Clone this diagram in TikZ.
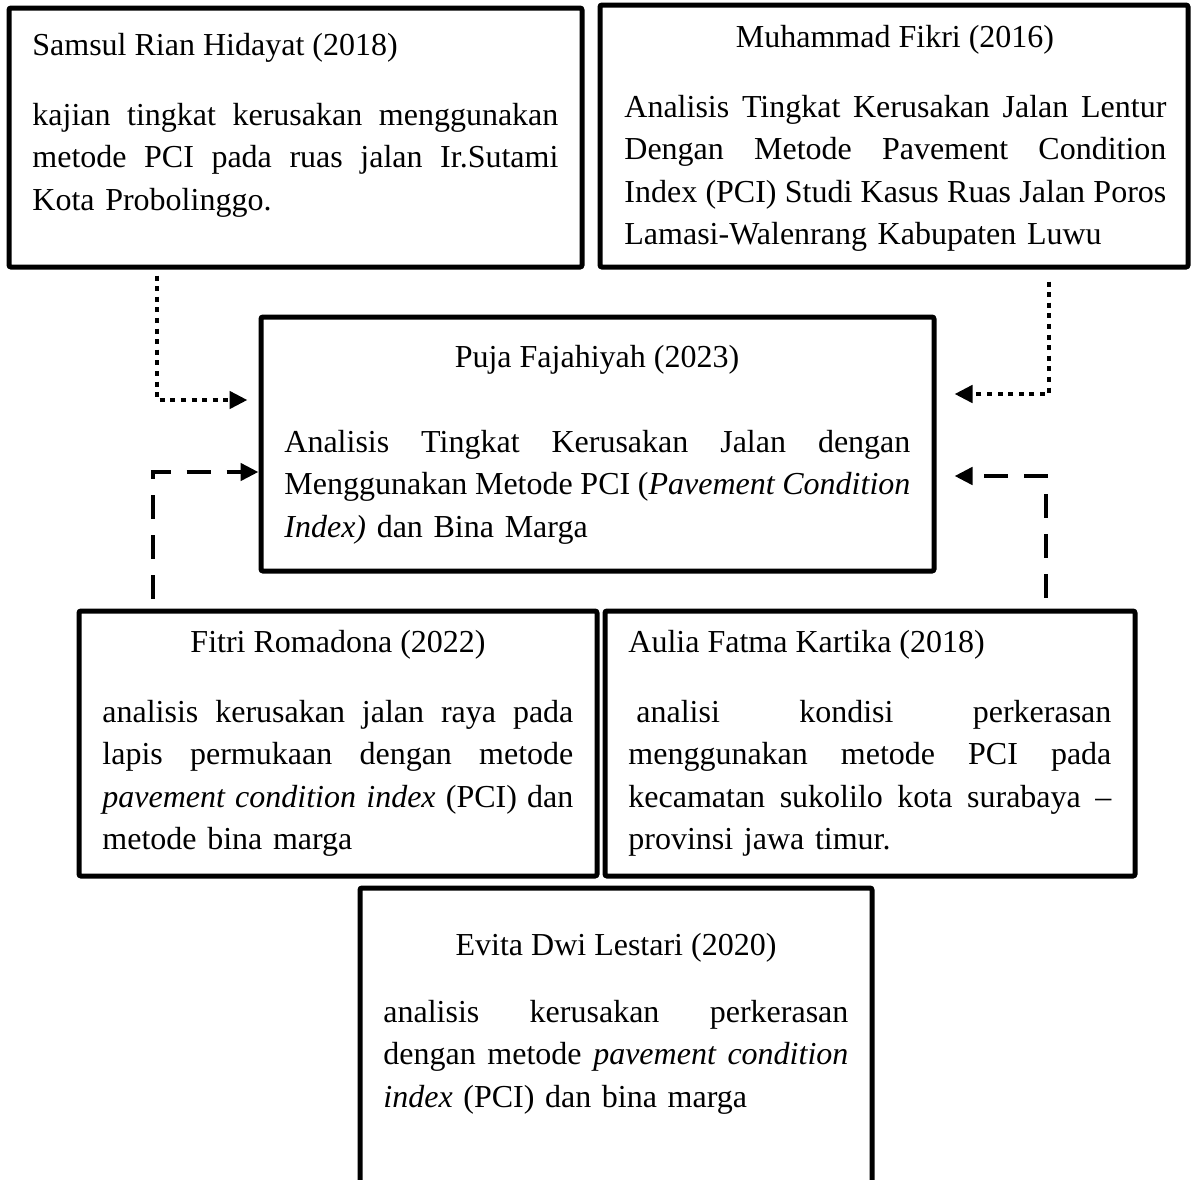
\documentclass[tikz,border=0pt]{standalone}
\usepackage{fontspec}
\setmainfont{Liberation Serif}
\usetikzlibrary{arrows.meta}

\newcommand{\justline}[1]{\leavevmode\hbox to\hsize{\spaceskip=4pt plus 30pt minus 1.6pt\relax #1}\\}

\begin{document}
\begin{tikzpicture}[x=0.5pt,y=-0.5pt,
		>={Triangle[length=9pt,width=8.5pt]},
		card/.style={draw,line width=2.5pt,rounded corners=1pt,inner sep=0pt},
		head/.style={inner sep=0pt,font=\fontsize{16}{21.25}\selectfont},
		body/.style={anchor=base west,inner sep=0pt,align=left,text width=#1,
			font=\fontsize{16}{21.25}\selectfont},
		dotlink/.style={->,line width=2.3pt,dash pattern=on 2.5pt off 2.8pt},
		dashlink/.style={->,line width=2.3pt,dash pattern=on 12pt off 8pt}]

		\useasboundingbox (0,0) rectangle (1191,1180);
		\clip (0,0) rectangle (1191,1180);

		% boxes
		\node[card,minimum width=286.5pt,minimum height=129.5pt] (samsul) at (295.5,137.5) {};
		\node[card,minimum width=294pt,minimum height=131pt] (fikri) at (894,136) {};
		\node[card,minimum width=336.5pt,minimum height=127pt] (puja) at (597.5,444) {};
		\node[card,minimum width=259pt,minimum height=132.5pt] (fitri) at (338,743.5) {};
		\node[card,minimum width=265pt,minimum height=132.5pt] (aulia) at (870,743.5) {};
		\node[card,minimum width=256pt,minimum height=161pt] (evita) at (616,1049) {};

		% texts
		\node[head,anchor=base west] (samsulT) at (32,55) {Samsul Rian Hidayat (2018)};
		\node[body=263pt] (samsulB) at (32,125) {%
			\justline{kajian tingkat kerusakan menggunakan}
			\justline{metode PCI pada ruas jalan Ir.Sutami}
			Kota Probolinggo.};

		\node[head,anchor=base] (fikriT) at (895,47) {Muhammad Fikri (2016)};
		\node[body=271pt] (fikriB) at (624,117) {%
			\justline{Analisis Tingkat Kerusakan Jalan Lentur}
			\justline{Dengan Metode Pavement Condition}
			\justline{Index (PCI) Studi Kasus Ruas Jalan Poros}
			Lamasi-Walenrang Kabupaten Luwu};

		\node[head,anchor=base] (pujaT) at (597,367) {Puja Fajahiyah (2023)};
		\node[body=313pt] (pujaB) at (284,452) {%
			\justline{Analisis Tingkat Kerusakan Jalan dengan}
			\justline{Menggunakan Metode PCI (\textit{Pavement Condition}}
			\textit{Index)} dan Bina Marga};

		\node[head,anchor=base] (fitriT) at (338,652) {Fitri Romadona (2022)};
		\node[body=235.5pt] (fitriB) at (102,722) {%
			\justline{analisis kerusakan jalan raya pada}
			\justline{lapis permukaan dengan metode}
			\justline{\textit{pavement condition index} (PCI) dan}
			metode bina marga};

		\node[head,anchor=base west] (auliaT) at (628,652) {Aulia Fatma Kartika (2018)};
		\node[body=241.5pt] (auliaB) at (628,722) {%
			\justline{\hspace*{4pt}analisi kondisi perkerasan}
			\justline{menggunakan metode PCI pada}
			\justline{kecamatan sukolilo kota surabaya --}
			provinsi jawa timur.};

		\node[head,anchor=base] (evitaT) at (616,955) {Evita Dwi Lestari (2020)};
		\node[body=232.5pt] (evitaB) at (383,1022) {%
			\justline{analisis kerusakan perkerasan}
			\justline{dengan metode \textit{pavement condition}}
			\textit{index} (PCI) dan bina marga};

		% links
		\draw[dotlink,shorten <=3pt,shorten >=5.5pt] (samsul.south -| 157,0) |- (puja.west |- 0,400);
		\draw[dotlink,shorten <=6pt,shorten >=9pt] (fikri.south -| 1049,0) |- (puja.east |- 0,394);
		\draw[dashlink,shorten <=5pt] (fitri.north -| 153,0) |- (puja.west |- 0,472);
		\draw[dashlink,shorten <=5.5pt,shorten >=9pt] (aulia.north -| 1046,0) |- (puja.east |- 0,476);
\end{tikzpicture}
\end{document}
